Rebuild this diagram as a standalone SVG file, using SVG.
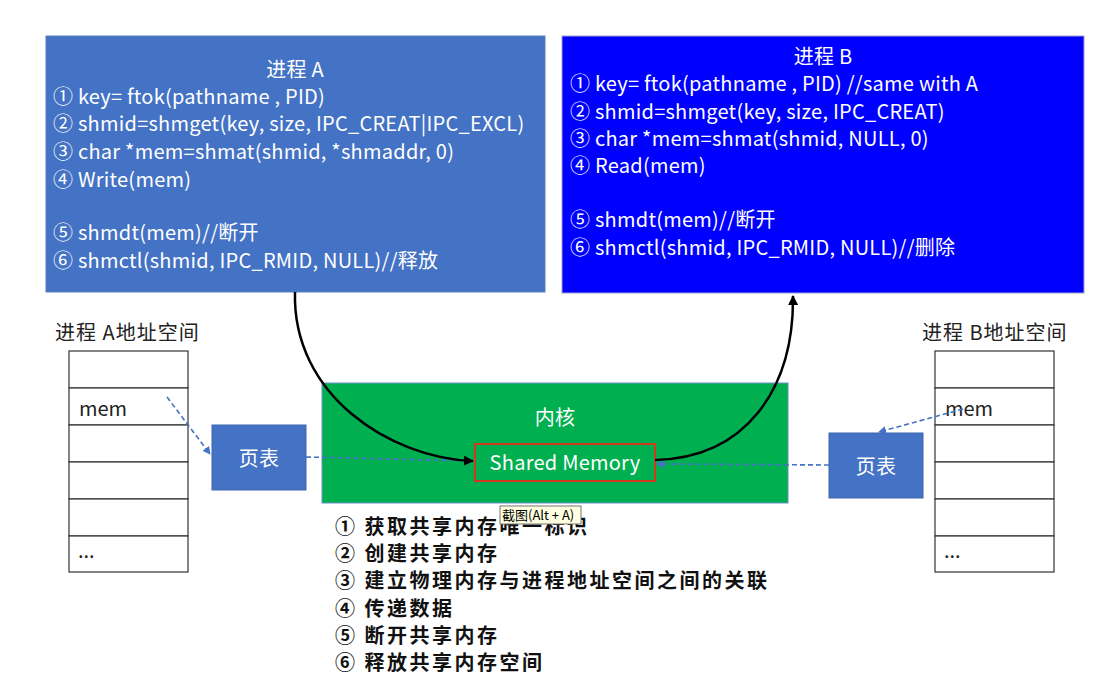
<svg xmlns="http://www.w3.org/2000/svg" width="1096" height="683" viewBox="0 0 1096 683">
<style>
text{font-family:"Noto Sans CJK SC","Noto Sans",sans-serif;}
.w{fill:#fff;font-size:20px;letter-spacing:0.25px;}
.k{fill:#222;font-size:20px;}
.cell{fill:#fff;stroke:#333;stroke-width:1.2;}
.pt{fill:#4472C4;stroke:#3f66ad;stroke-width:1;}
.dash{fill:none;stroke:#4472C4;stroke-width:1.6;stroke-dasharray:5 3;}
.curve{fill:none;stroke:#000;stroke-width:2.5;}
.lst{fill:#111;font-size:20px;font-weight:bold;letter-spacing:2.5px;}
</style>
<defs>
<marker id="ab" markerWidth="8" markerHeight="8" refX="7" refY="4" orient="auto" markerUnits="userSpaceOnUse"><path d="M0,0 L8,4 L0,8 z" fill="#4472C4"/></marker>
<marker id="ak" markerWidth="10" markerHeight="10" refX="9" refY="5" orient="auto" markerUnits="userSpaceOnUse"><path d="M0,0 L10,5 L0,10 z" fill="#000"/></marker>
</defs>
<rect width="1096" height="683" fill="#fff"/>

<g id="procA">
<rect x="46" y="36" width="499" height="256" fill="#4472C4" stroke="#5a7fc4" stroke-width="1"/>
<text class="w" x="295" y="77" text-anchor="middle">进程 A</text>
<text class="w" x="53" y="104">① key= ftok(pathname , PID)</text>
<text class="w" x="53" y="131">② shmid=shmget(key, size, IPC_CREAT|IPC_EXCL)</text>
<text class="w" x="53" y="159">③ char *mem=shmat(shmid, *shmaddr, 0)</text>
<text class="w" x="53" y="187">④ Write(mem)</text>
<text class="w" x="53" y="240">⑤ shmdt(mem)//断开</text>
<text class="w" x="53" y="268">⑥ shmctl(shmid, IPC_RMID, NULL)//释放</text>
</g>

<g id="procB">
<rect x="562" y="36" width="522" height="257" fill="#0000FF" stroke="#a0a0c8" stroke-width="1"/>
<text class="w" x="823" y="64" text-anchor="middle">进程 B</text>
<text class="w" x="570" y="91">① key= ftok(pathname , PID) //same with A</text>
<text class="w" x="570" y="119">② shmid=shmget(key, size, IPC_CREAT)</text>
<text class="w" x="570" y="146">③ char *mem=shmat(shmid, NULL, 0)</text>
<text class="w" x="570" y="173">④ Read(mem)</text>
<text class="w" x="570" y="227">⑤ shmdt(mem)//断开</text>
<text class="w" x="570" y="255">⑥ shmctl(shmid, IPC_RMID, NULL)//删除</text>
</g>

<g id="addrA">
<text class="k" x="55" y="340" font-size="21" letter-spacing="1">进程 A地址空间</text>
<rect class="cell" x="69" y="351" width="119" height="37"/>
<rect class="cell" x="69" y="388" width="119" height="37"/>
<rect class="cell" x="69" y="425" width="119" height="37"/>
<rect class="cell" x="69" y="462" width="119" height="37"/>
<rect class="cell" x="69" y="499" width="119" height="37"/>
<rect class="cell" x="69" y="536" width="119" height="36"/>
<text class="k" x="79" y="416" font-size="19">mem</text>
<text class="k" x="78" y="558" font-size="14">...</text>
</g>

<g id="addrB">
<text class="k" x="922" y="340" font-size="21" letter-spacing="1">进程 B地址空间</text>
<rect class="cell" x="935" y="351" width="119" height="37"/>
<rect class="cell" x="935" y="388" width="119" height="37"/>
<rect class="cell" x="935" y="425" width="119" height="37"/>
<rect class="cell" x="935" y="462" width="119" height="37"/>
<rect class="cell" x="935" y="499" width="119" height="37"/>
<rect class="cell" x="935" y="536" width="119" height="36"/>
<text class="k" x="945" y="416" font-size="19">mem</text>
<text class="k" x="944" y="558" font-size="14">...</text>
</g>

<g id="ptA">
<rect class="pt" x="212" y="425" width="94" height="65"/>
<text class="w" x="259" y="466" text-anchor="middle" font-size="22">页表</text>
</g>

<g id="ptB">
<rect class="pt" x="829" y="433" width="94" height="65"/>
<text class="w" x="876" y="474" text-anchor="middle" font-size="22">页表</text>
</g>

<g id="kernel">
<rect x="322" y="383" width="466" height="120" fill="#00B050" stroke="#6b8fc9" stroke-width="1"/>
<text class="w" x="555" y="425" text-anchor="middle" font-size="22">内核</text>
</g>

<g id="shm">
<rect x="475" y="444" width="180" height="37" fill="#00B050" stroke="#D03A1E" stroke-width="2"/>
<text class="w" x="565" y="470" text-anchor="middle" font-size="21">Shared Memory</text>
</g>

<g id="connectors">
<path class="dash" d="M167,397 L210,454" marker-end="url(#ab)"/>
<path class="dash" d="M306,457 L473,461" marker-end="url(#ab)"/>
<path class="dash" d="M963,409 L879,432" marker-end="url(#ab)"/>
<path class="dash" d="M829,465 L657,464" marker-end="url(#ab)"/>
<path class="curve" d="M295,292 C292,395 390,458 473,461" marker-end="url(#ak)"/>
<path class="curve" d="M655,460 C745,458 794,390 793,296" marker-end="url(#ak)"/>
</g>

<g id="steps">
<text class="lst" x="335" y="534">① 获取共享内存唯一标识</text>
<text class="lst" x="335" y="561">② 创建共享内存</text>
<text class="lst" x="335" y="588">③ 建立物理内存与进程地址空间之间的关联</text>
<text class="lst" x="335" y="616">④ 传递数据</text>
<text class="lst" x="335" y="643">⑤ 断开共享内存</text>
<text class="lst" x="335" y="670">⑥ 释放共享内存空间</text>
</g>

<g id="tooltip">
<rect x="500" y="506" width="81" height="18" fill="#FFFFE1" stroke="#777" stroke-width="1"/>
<text x="502" y="520" font-size="13" fill="#000">截图(Alt + A)</text>
</g>
</svg>
